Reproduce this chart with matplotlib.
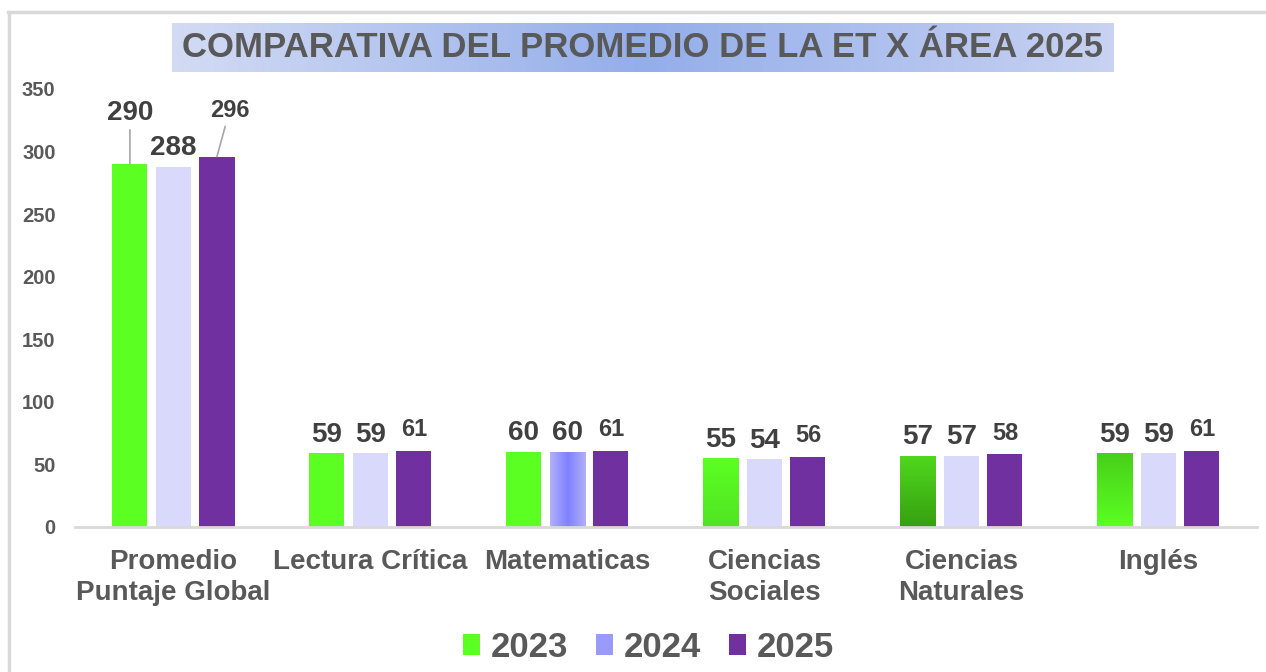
import matplotlib.pyplot as plt
import numpy as np
from matplotlib.colors import LinearSegmentedColormap
from matplotlib.lines import Line2D

plt.rcParams['font.family'] = ['Liberation Sans', 'DejaVu Sans']
plt.rcParams['font.weight'] = 'bold'

categories = ['Promedio\nPuntaje Global', 'Lectura Crítica', 'Matematicas',
              'Ciencias\nSociales', 'Ciencias\nNaturales', 'Inglés']
years = ['2023', '2024', '2025']
vals_2023 = [290, 59, 60, 55, 57, 59]
vals_2024 = [288, 59, 60, 54, 57, 59]
vals_2025 = [296, 61, 61, 56, 58, 61]
yticks = [0, 50, 100, 150, 200, 250, 300, 350]

colors = ['#5cff22', '#d9d9fb', '#7030a0']
gray = '#595959'
dark = '#404040'

# bars that have a gradient fill in the original: (series, category) -> colours
gradients = {
    (1, 2): ('h', ['#b0b0fb', '#8080ff', '#b0b0f8']),
    (0, 4): ('v', ['#36a012', '#50d81c']),
    (0, 3): ('v', ['#50e424', '#5cff22']),
    (0, 5): ('v', ['#5cff22', '#48d01a']),
}


def fill_gradient(ax, bar, kind, cols):
    x, y = bar.get_x(), bar.get_y()
    w, h = bar.get_width(), bar.get_height()
    cmap = LinearSegmentedColormap.from_list('g', cols)
    if kind == 'h':
        grad = np.linspace(0, 1, 100).reshape(1, -1)
    else:
        grad = np.linspace(0, 1, 100).reshape(-1, 1)
    im = ax.imshow(grad, cmap=cmap, extent=(x, x + w, y, y + h),
                   origin='lower', aspect='auto', zorder=2)
    im.set_clip_path(bar)
    bar.set_facecolor('none')


fig = plt.figure(figsize=(12.66, 6.72), dpi=100)
ax = fig.add_axes([0.0592, 0.2158, 0.9336, 0.6518])

x = np.arange(len(categories))
pitch = 0.221
width = 0.178
series = [vals_2023, vals_2024, vals_2025]
all_bars = []
for i, vals in enumerate(series):
    bars = ax.bar(x + (i - 1) * pitch, vals, width, color=colors[i],
                  label=years[i], zorder=2)
    all_bars.append(bars)

for (i, j), (kind, cols) in gradients.items():
    fill_gradient(ax, all_bars[i][j], kind, cols)

ax.set_xlim(-0.5, len(categories) - 0.5)
ax.set_ylim(0, 350)

# data labels
for i, vals in enumerate(series):
    size = 17 if i == 2 else 20
    for j, v in enumerate(vals):
        bx = x[j] + (i - 1) * pitch
        if j == 0 and i != 1:
            # first group: labels pulled up with a leader line
            off = (0, 37) if i == 0 else (9, 33)
            ax.annotate(str(v), (bx, v), xytext=off, textcoords='offset points',
                        ha='center', va='center', fontsize=size, color=dark,
                        fontweight='bold',
                        arrowprops=dict(arrowstyle='-', color='#a6a6a6', lw=1.2,
                                        shrinkA=1, shrinkB=0))
        else:
            off = 7 if i == 2 else 4
            ax.annotate(str(v), (bx, v), xytext=(0, off), textcoords='offset points',
                        ha='center', va='bottom', fontsize=size, color=dark,
                        fontweight='bold')

ax.set_yticks(yticks)
ax.set_yticklabels([str(t) for t in yticks], fontsize=14.5, color=gray,
                   fontweight='bold')
ax.set_xticks(x)
ax.set_xticklabels(categories, fontsize=20, color=gray, fontweight='bold',
                   linespacing=1.25)
ax.tick_params(axis='y', length=0, pad=14)
ax.tick_params(axis='x', length=0, pad=16)
for s in ['top', 'right', 'left']:
    ax.spines[s].set_visible(False)
ax.spines['bottom'].set_color('#d9d9d9')
ax.spines['bottom'].set_linewidth(2)

leg = ax.legend(loc='center', bbox_to_anchor=(0.512, 0.037), bbox_transform=fig.transFigure,
                ncol=3, frameon=False, handlelength=0.5, handleheight=0.55,
                handletextpad=0.3, columnspacing=0.8,
                prop={'size': 25, 'weight': 'bold'})
for t in leg.get_texts():
    t.set_color(gray)
leg.legend_handles[1].set_facecolor('#9a9afc')

# title with gradient box
tax = fig.add_axes([0.1359, 0.8929, 0.7433, 0.0729])
tgrad = np.linspace(0, 1, 200).reshape(1, -1)
tcmap = LinearSegmentedColormap.from_list(
    't', [(0, '#d3dbf4'), (0.5, '#94aeea'), (1, '#c8d2f2')])
tax.imshow(tgrad, cmap=tcmap, aspect='auto', extent=(0, 1, 0, 1))
tax.set_axis_off()
tax.text(0.5, 0.5, 'COMPARATIVA DEL PROMEDIO DE LA ET X ÁREA 2025',
         ha='center', va='center', fontsize=25, color=gray, fontweight='bold',
         transform=tax.transAxes)

# chart frame
fig.add_artist(Line2D([8 / 1266, 1], [1 - 12 / 672, 1 - 12 / 672],
                      transform=fig.transFigure, color='#d9d9d9', lw=2.5))
fig.add_artist(Line2D([8.5 / 1266, 8.5 / 1266], [0, 1 - 12 / 672],
                      transform=fig.transFigure, color='#d9d9d9', lw=2.5))

plt.savefig('out.png', dpi=100)
